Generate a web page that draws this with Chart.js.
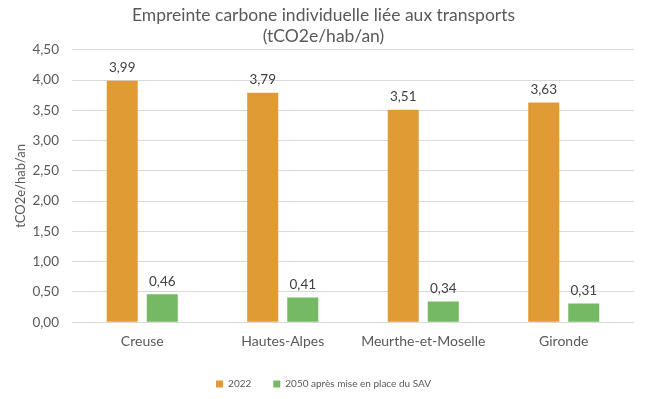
<!DOCTYPE html>
<html>
<head>
<meta charset="utf-8">
<script src="https://cdn.jsdelivr.net/npm/chart.js@4/dist/chart.umd.min.js"></script>
<style>
html,body{margin:0;padding:0;background:#fff;}
#wrap{width:656px;height:399px;position:relative;}
</style>
</head>
<body>
<div id="wrap"><canvas id="c"></canvas></div>
<script>
const categories = ["Creuse", "Hautes-Alpes", "Meurthe-et-Moselle", "Gironde"];
const values2022 = [3.99, 3.79, 3.51, 3.63];
const values2050 = [0.46, 0.41, 0.34, 0.31];
const seriesNames = ["2022", "2050 après mise en place du SAV"];
const titleLines = ["Empreinte carbone individuelle liée aux transports", "(tCO2e/hab/an)"];
const yAxisTitle = "tCO2e/hab/an";

const FONT = "Lato, 'Open Sans', sans-serif";
const fmt = v => v.toFixed(2).replace('.', ',');

const labelPlugin = {
  id: 'valueLabels',
  afterDatasetsDraw(chart) {
    const ctx = chart.ctx;
    ctx.save();
    ctx.font = "13.5px " + FONT;
    ctx.fillStyle = "#404040";
    ctx.textAlign = "center";
    ctx.textBaseline = "middle";
    chart.data.datasets.forEach((ds, i) => {
      const meta = chart.getDatasetMeta(i);
      meta.data.forEach((el, j) => {
        ctx.fillText(fmt(ds.data[j]), el.x, el.y - 13);
      });
    });
    ctx.restore();
  }
};

new Chart(document.getElementById('c'), {
  type: 'bar',
  data: {
    labels: categories,
    datasets: [
      { label: seriesNames[0], data: values2022, backgroundColor: "#E09B35" },
      { label: seriesNames[1], data: values2050, backgroundColor: "#76B965" }
    ]
  },
  options: {
    responsive: true,
    maintainAspectRatio: false,
    animation: false,
    categoryPercentage: 0.57,
    barPercentage: 0.775,
    layout: { padding: { left: 13, right: 22, top: 2, bottom: 0 } },
    plugins: {
      title: {
        display: true,
        text: titleLines,
        color: "#595959",
        font: { family: FONT, size: 17.5, weight: 'normal', lineHeight: 1.25 },
        padding: { top: 2, bottom: 2 }
      },
      legend: {
        position: 'bottom',
        labels: {
          boxWidth: 7, boxHeight: 7,
          color: "#595959",
          font: { family: FONT, size: 10 },
          padding: 22
        }
      },
      tooltip: { enabled: false }
    },
    scales: {
      x: {
        grid: { display: false },
        border: { display: false },
        ticks: { color: "#595959", font: { family: FONT, size: 14 }, padding: 3 },
        afterFit: s => { s.height += 4; }
      },
      y: {
        min: 0, max: 4.5,
        grid: { color: "#D9D9D9", drawTicks: false, tickLength: 0 },
        border: { display: false },
        ticks: {
          stepSize: 0.5,
          color: "#595959",
          font: { family: FONT, size: 13.5 },
          padding: 13,
          callback: v => fmt(v)
        },
        title: {
          display: true, text: yAxisTitle, color: "#595959",
          font: { family: FONT, size: 13 }, padding: 0
        },
        afterFit: s => { s.width = 59; }
      }
    }
  },
  plugins: [labelPlugin]
});
</script>
</body>
</html>
